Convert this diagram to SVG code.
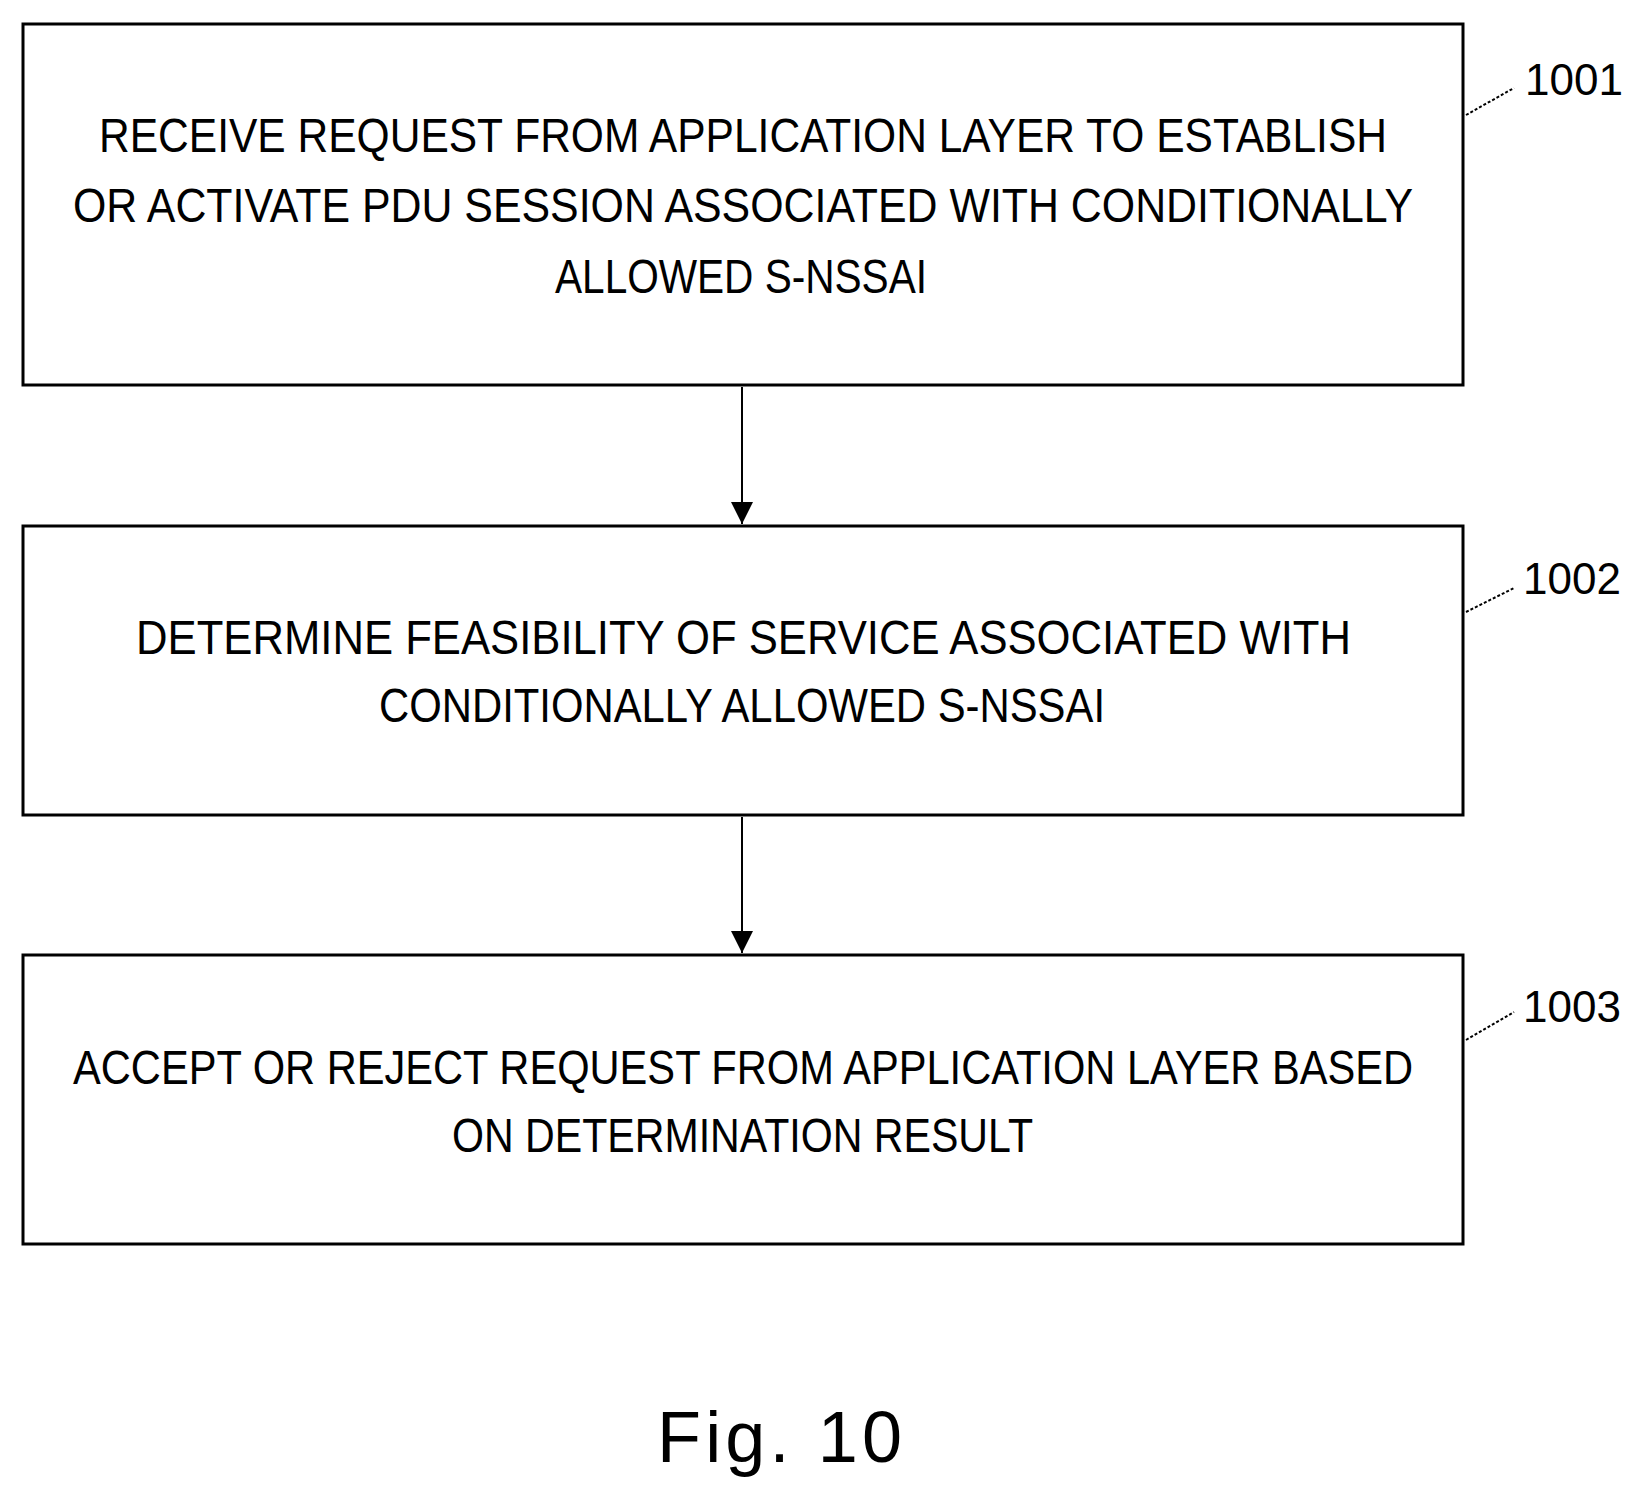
<svg xmlns="http://www.w3.org/2000/svg" width="1641" height="1493" viewBox="0 0 1641 1493">
<defs>
<style>
.box{fill:#fff;stroke:#000;stroke-width:3}
.t{font-family:"Liberation Sans",Arial,sans-serif;font-size:48px;fill:#000}
.lbl{font-family:"Liberation Sans",Arial,sans-serif;font-size:44px;fill:#000}
.ln{stroke:#000;stroke-width:2;fill:none}
</style>
<marker id="ah" markerWidth="12" markerHeight="14" refX="6" refY="14" orient="auto" markerUnits="userSpaceOnUse" viewBox="0 0 12 14"><path d="M0,0 L12,0 L6,14 Z" fill="#000" transform="rotate(-90 6 7) translate(0 0)"/></marker>
<marker id="arr" markerWidth="22" markerHeight="24" refX="22" refY="11" orient="auto" markerUnits="userSpaceOnUse"><path d="M0,0 L22,11 L0,22 Z" fill="#000"/></marker>
</defs>
<rect width="1641" height="1493" fill="#fff"/>
<g id="n1001">
<rect class="box" x="23" y="24" width="1440" height="361"/>
<text class="t" x="99" y="152" textLength="1288" lengthAdjust="spacingAndGlyphs">RECEIVE REQUEST FROM APPLICATION LAYER TO ESTABLISH</text>
<text class="t" x="73" y="222" textLength="1340" lengthAdjust="spacingAndGlyphs">OR ACTIVATE PDU SESSION ASSOCIATED WITH CONDITIONALLY</text>
<text class="t" x="555" y="293" textLength="372" lengthAdjust="spacingAndGlyphs">ALLOWED S-NSSAI</text>
<text class="lbl" x="1525" y="95">1001</text>
</g>
<g id="n1002">
<rect class="box" x="23" y="526" width="1440" height="289"/>
<text class="t" x="136" y="654" textLength="1215" lengthAdjust="spacingAndGlyphs">DETERMINE FEASIBILITY OF SERVICE ASSOCIATED WITH</text>
<text class="t" x="379" y="722" textLength="726" lengthAdjust="spacingAndGlyphs">CONDITIONALLY ALLOWED S-NSSAI</text>
<text class="lbl" x="1523" y="594">1002</text>
</g>
<g id="n1003">
<rect class="box" x="23" y="955" width="1440" height="289"/>
<text class="t" x="73" y="1084" textLength="1340" lengthAdjust="spacingAndGlyphs">ACCEPT OR REJECT REQUEST FROM APPLICATION LAYER BASED</text>
<text class="t" x="452" y="1152" textLength="581" lengthAdjust="spacingAndGlyphs">ON DETERMINATION RESULT</text>
<text class="lbl" x="1523" y="1022">1003</text>
</g>
<g id="connectors">
<line class="ln" x1="742" y1="387" x2="742" y2="524" marker-end="url(#arr)"/>
<line class="ln" x1="742" y1="817" x2="742" y2="953" marker-end="url(#arr)"/>
<line class="ln" x1="1466" y1="115" x2="1514" y2="88" stroke-dasharray="3,2"/>
<line class="ln" x1="1466" y1="612" x2="1514" y2="588" stroke-dasharray="3,2"/>
<line class="ln" x1="1466" y1="1040" x2="1514" y2="1012" stroke-dasharray="3,2"/>
</g>
<text x="657" y="1462" font-family="Liberation Sans,Arial,sans-serif" font-size="72" textLength="245" lengthAdjust="spacing">Fig. 10</text>
</svg>
